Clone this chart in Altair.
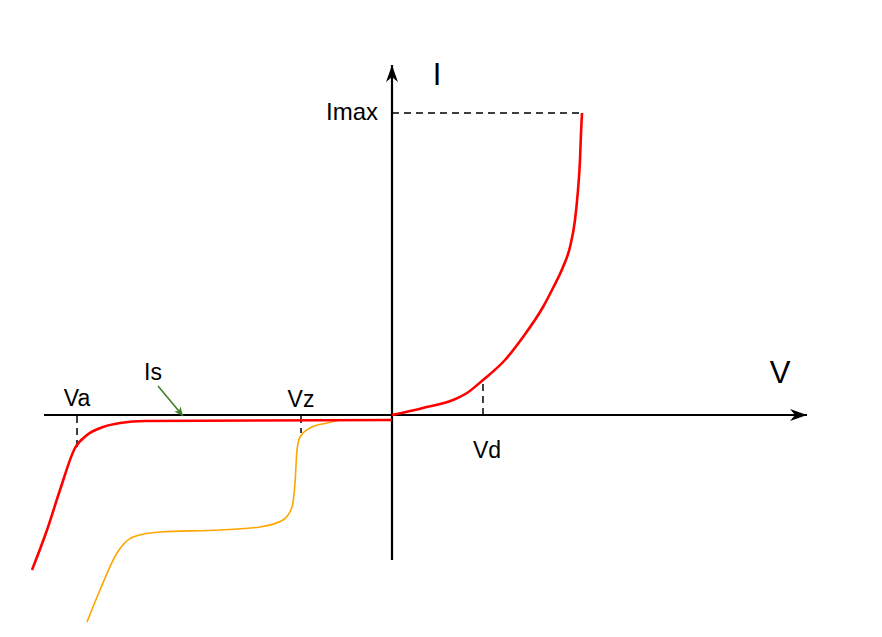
import altair as alt
import pandas as pd

# Diode I-V characteristic (schematic units)
FWD_V = [0, 0.31, 0.61, 0.75, 0.91, 1.13, 1.31, 1.51, 1.61, 1.71, 1.78, 1.83, 1.86, 1.88, 1.89, 1.90]
FWD_I = [0, 0.07, 0.15, 0.22, 0.35, 0.55, 0.78, 1.08, 1.27, 1.48, 1.68, 1.95, 2.25, 2.55, 2.82, 3.02]

REV_V = [-3.60, -3.45, -3.32, -3.17, -3.05, -2.89, -2.72, -2.47, 0]
REV_I = [-1.55, -1.15, -0.75, -0.33, -0.20, -0.12, -0.08, -0.06, -0.05]

ZEN_V = [-3.05, -2.92, -2.75, -2.59, -2.32, -1.72, -1.32, -1.09, -1.00, -0.97, -0.95, -0.92, -0.82, -0.65, -0.52]
ZEN_I = [-2.07, -1.75, -1.38, -1.22, -1.17, -1.15, -1.12, -1.05, -0.92, -0.68, -0.35, -0.22, -0.13, -0.08, -0.05]

V_AXIS = [-3.48, 4.15]
I_AXIS = [-1.45, 3.50]

I_MAX = 3.02
V_D, V_A, V_Z = 0.91, -3.15, -0.91
IS_ARROW_V = [-2.34, -2.09]
IS_ARROW_I = [0.29, -0.01]

LABELS = ["I", "V", "Imax", "Vd", "Va", "Vz", "Is"]
LABEL_V = [0.45, 3.88, -0.14, 0.95, -3.15, -0.91, -2.39]
LABEL_I = [3.30, 0.32, 3.02, -0.43, 0.09, 0.08, 0.35]
LABEL_SIZE = [31, 31, 24, 23, 23, 23, 23]
LABEL_ALIGN = ["center", "center", "right", "center", "center", "center", "center"]

xs = alt.Scale(domain=[-3.84, 4.82], nice=False, zero=False)
ys = alt.Scale(domain=[-2.14, 4.07], nice=False, zero=False)


def curve(v, i):
    return pd.DataFrame({"V": v, "I": i, "idx": range(len(v))})


def line(df, color, width, **kw):
    return (
        alt.Chart(df)
        .mark_line(color=color, strokeWidth=width, **kw)
        .encode(
            x=alt.X("V:Q", scale=xs, axis=None),
            y=alt.Y("I:Q", scale=ys, axis=None),
            order="idx:Q",
        )
    )


# axes
h_axis = line(curve(V_AXIS, [0, 0]), "black", 2.2)
v_axis = line(curve([0, 0], I_AXIS), "black", 2.2)
h_head = (
    alt.Chart(pd.DataFrame({"V": [V_AXIS[1]], "I": [0]}))
    .mark_point(shape="M0,0L-2,-0.7L-1.4,0L-2,0.7Z", filled=True, size=289, color="black", opacity=1)
    .encode(x=alt.X("V:Q", scale=xs, axis=None), y=alt.Y("I:Q", scale=ys, axis=None))
)
v_head = (
    alt.Chart(pd.DataFrame({"V": [0], "I": [I_AXIS[1]]}))
    .mark_point(shape="M0,0L-0.7,2L0,1.4L0.7,2Z", filled=True, size=289, color="black", opacity=1)
    .encode(x=alt.X("V:Q", scale=xs, axis=None), y=alt.Y("I:Q", scale=ys, axis=None))
)

# dashed guides
DASH = [7, 5]
imax_rule = line(curve([0, FWD_V[-1]], [I_MAX, I_MAX]), "black", 1.5, strokeDash=DASH)
vd_rule = line(curve([V_D, V_D], [0, 0.35]), "black", 1.5, strokeDash=DASH)
va_rule = line(curve([V_A, V_A], [-0.01, -0.32]), "black", 1.5, strokeDash=DASH)
vz_rule = line(curve([V_Z, V_Z], [-0.01, -0.18]), "black", 1.5, strokeDash=DASH)

# curves
zener = line(curve(ZEN_V, ZEN_I), "#ffa500", 1.6, interpolate="monotone")
reverse = line(curve(REV_V, REV_I), "#ff0000", 2.6, interpolate="monotone")
forward = line(curve(FWD_V, FWD_I), "#ff0000", 2.6, interpolate="monotone")

# Is pointer
is_line = line(curve(IS_ARROW_V, IS_ARROW_I), "#3a7d22", 1.5)
is_head = (
    alt.Chart(pd.DataFrame({"V": [IS_ARROW_V[1]], "I": [IS_ARROW_I[1]]}))
    .mark_point(shape="M0,0L-2,-0.9L-1.4,0L-2,0.9Z", filled=True, size=81, color="#3a7d22",
                opacity=1, angle=51)
    .encode(x=alt.X("V:Q", scale=xs, axis=None), y=alt.Y("I:Q", scale=ys, axis=None))
)

labels_df = pd.DataFrame({"text": LABELS, "V": LABEL_V, "I": LABEL_I,
                          "size": LABEL_SIZE, "align": LABEL_ALIGN})
texts = []
for align in ["center", "right"]:
    texts.append(
        alt.Chart(labels_df[labels_df["align"] == align])
        .mark_text(font="Liberation Sans", align=align, baseline="alphabetic" if align == "center" else "middle",
                   color="black")
        .encode(
            x=alt.X("V:Q", scale=xs, axis=None),
            y=alt.Y("I:Q", scale=ys, axis=None),
            text="text:N",
            size=alt.Size("size:Q", scale=None, legend=None),
        )
    )

chart = (
    alt.layer(imax_rule, vd_rule, va_rule, vz_rule, h_axis, v_axis, h_head, v_head,
              zener, reverse, forward, is_line, is_head, *texts)
    .properties(width=866, height=621, padding=0, autosize=alt.AutoSizeParams(type="none"))
    .configure_view(stroke=None)
)

chart.save("out.html", embed_options={"renderer": "svg", "actions": False})
